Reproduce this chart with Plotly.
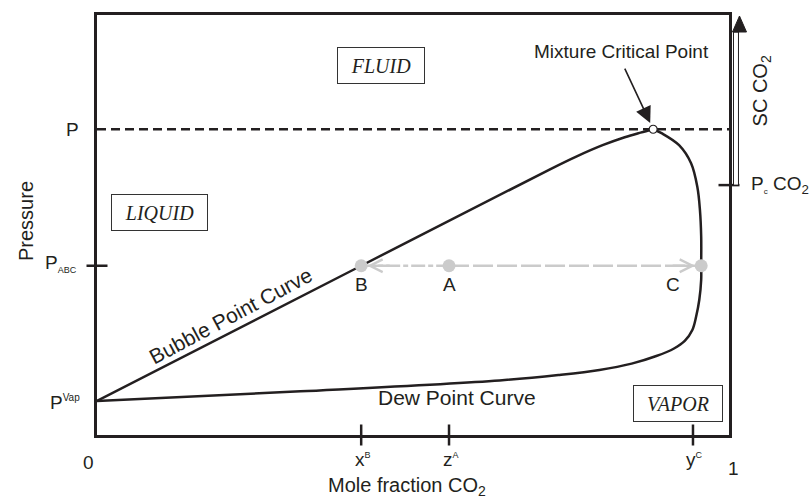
import plotly.graph_objects as go

# Bubble-point (saturated liquid) boundary of the two-phase envelope
bubble_x = [0.0, 0.418, 0.716, 0.760, 0.800, 0.835, 0.860, 0.880]
bubble_y = [0.081, 0.403, 0.632, 0.664, 0.690, 0.709, 0.720, 0.728]

# Dew-point (saturated vapor) boundary, from pure-solvent vapor pressure up to the critical point
dew_x = [0.0, 0.322, 0.637, 0.730, 0.795, 0.846, 0.885, 0.913, 0.930, 0.942, 0.948,
         0.953, 0.956, 0.956, 0.956, 0.954, 0.950, 0.940, 0.921, 0.894, 0.880]
dew_y = [0.081, 0.104, 0.130, 0.143, 0.155, 0.170, 0.188, 0.206, 0.224, 0.250, 0.282,
         0.322, 0.370, 0.403, 0.472, 0.536, 0.590, 0.647, 0.690, 0.718, 0.728]

# Characteristic pressures
p_crit = 0.728      # P (mixture critical pressure)
p_abc = 0.403       # P_ABC (flash pressure)
p_vap = 0.081       # P^Vap
pc_co2 = 0.595      # Pc CO2

# Mixture critical point
crit_x = 0.880

# Compositions along the tie line
x_B = 0.418
z_A = 0.557
y_C_tick = 0.943
x_C = 0.956
tie_names = ["B", "A", "C"]
tie_x = [x_B, z_A, x_C]

# Phase-region labels: (text, x, y, box width)
regions = [("LIQUID", 0.099, 0.530, 95), ("FLUID", 0.4495, 0.880, 86), ("VAPOR", 0.919, 0.075, 88)]

INK = "#231f20"
GREY = "#cbcbcb"
SANS = "Liberation Sans, Arial, sans-serif"
SERIF = "Liberation Serif, Times New Roman, serif"

fig = go.Figure()

# dashed isobar at the critical pressure
fig.add_trace(go.Scatter(x=[0, 1], y=[p_crit, p_crit], mode="lines",
                         line=dict(color=INK, width=2.5, dash="9px,5px"), hoverinfo="skip"))
# phase envelope
fig.add_trace(go.Scatter(x=bubble_x, y=bubble_y, mode="lines", line_shape="spline",
                         line=dict(color=INK, width=2.5), hoverinfo="skip"))
fig.add_trace(go.Scatter(x=dew_x, y=dew_y, mode="lines", line_shape="spline",
                         line=dict(color=INK, width=2.5), hoverinfo="skip"))
# tie line B - A - C
fig.add_trace(go.Scatter(x=[x_B, z_A], y=[p_abc, p_abc], mode="lines",
                         line=dict(color=GREY, width=2.5, dash="14px,3px,5px,3px"), hoverinfo="skip"))
fig.add_trace(go.Scatter(x=[z_A, x_C], y=[p_abc, p_abc], mode="lines",
                         line=dict(color=GREY, width=2.5, dash="20px,4px"), hoverinfo="skip"))
fig.add_trace(go.Scatter(x=tie_x, y=[p_abc] * 3, mode="markers",
                         marker=dict(color=GREY, size=13), cliponaxis=False, hoverinfo="skip"))
# critical point
fig.add_trace(go.Scatter(x=[crit_x], y=[p_crit], mode="markers",
                         marker=dict(color="white", size=8, line=dict(color=INK, width=1.2)),
                         cliponaxis=False, hoverinfo="skip"))
# axis ticks crossing the frame
fig.add_trace(go.Scatter(x=[x_B, z_A, y_C_tick], y=[0, 0, 0], mode="markers",
                         marker=dict(symbol="line-ns", size=15, line=dict(color=INK, width=2.5)),
                         cliponaxis=False, hoverinfo="skip"))
fig.add_trace(go.Scatter(x=[0, 1], y=[p_abc, pc_co2], mode="markers",
                         marker=dict(symbol="line-ew", size=15, line=dict(color=INK, width=2.5)),
                         cliponaxis=False, hoverinfo="skip"))

ann = []


def label(text, x, y, size=19, xref="x", yref="y", xanchor="center", yanchor="middle", **kw):
    d = dict(text=text, x=x, y=y, xref=xref, yref=yref, showarrow=False,
             xanchor=xanchor, yanchor=yanchor,
             font=dict(family=SANS, size=size, color=INK))
    d.update(kw)
    ann.append(d)


# pressure tick labels (left)
label("P", 0, p_crit, xanchor="right", xshift=-16)
label("P<sub><span style='font-size:9px'>ABC</span></sub>", 0, p_abc, xanchor="right", xshift=-18, yshift=2)
label("P<sup><span style='font-size:10px'>Vap</span></sup>", 0, p_vap, xanchor="right", xshift=-15, yshift=-2)

# composition tick labels (bottom)
label("0", 0, 0, yshift=-27, xshift=-9)
label("x<sup><span style='font-size:9px'>B</span></sup>", x_B, 0, yshift=-24, xshift=2)
label("z<sup><span style='font-size:9px'>A</span></sup>", z_A, 0, yshift=-24, xshift=2)
label("y<sup><span style='font-size:9px'>C</span></sup>", y_C_tick, 0, yshift=-24, xshift=2)
label("1", 1, 0, yshift=-33, xshift=4)

# axis titles
label("Mole fraction CO<sub>2</sub>", 0.49, -0.123, size=20, xref="paper", yref="paper")
label("Pressure", -0.112, 0.51, size=20, xref="paper", yref="paper", textangle=-90)

# right-hand supercritical scale
label("SC CO<sub>2</sub>", 1.052, 0.82, size=20, xref="paper", yref="paper", textangle=-90)
label("P<sub><span style='font-size:8px'>c</span></sub> CO<sub>2</sub>", 1.0, pc_co2,
      xref="paper", xanchor="left", xshift=20)

# tie-line point labels
for name, xv in zip(tie_names, tie_x):
    label(name, xv, p_abc, yshift=-19, xshift=(-28 if name == "C" else 0))

# curve labels
label("Bubble Point Curve", 0.212, 0.285, size=21, textangle=-28)
label("Dew Point Curve", 0.57, 0.090, size=21)
label("Mixture Critical Point", 0.9716, 0.912, xanchor="right")

# arrow to the critical point
ann.append(dict(x=crit_x, y=p_crit, ax=0.834, ay=0.876, xref="x", yref="y", axref="x", ayref="y",
                text="", showarrow=True, arrowhead=2, arrowsize=2, arrowwidth=1.6,
                arrowcolor=INK, standoff=7))

# chevrons at the ends of the tie line
ann.append(dict(x=x_B, y=p_abc, ax=30, ay=0, xref="x", yref="y", text="", showarrow=True,
                arrowhead=5, arrowsize=1, arrowwidth=2.5, arrowcolor=GREY, standoff=6))
ann.append(dict(x=x_C, y=p_abc, ax=-30, ay=0, xref="x", yref="y", text="", showarrow=True,
                arrowhead=5, arrowsize=1, arrowwidth=2.5, arrowcolor=GREY, standoff=6))

# boxed phase-region labels
for text, xv, yv, w in regions:
    ann.append(dict(text=text, x=xv, y=yv, xref="paper", yref="paper", showarrow=False,
                    xanchor="center", yanchor="middle",
                    width=w, height=35, borderwidth=1, bordercolor="#333333", borderpad=0,
                    bgcolor="white", font=dict(family=SERIF, size=20, color=INK, style="italic")))

# hollow upward arrow marking the supercritical range
shapes = [
    dict(type="rect", xref="paper", yref="paper", x0=1.0071, x1=1.015, y0=pc_co2, y1=0.9595,
         line=dict(color=INK, width=1), fillcolor="white"),
    dict(type="path", xref="paper", yref="paper",
         path="M 1.0055 0.9595 L 1.0277 0.9595 L 1.0166 0.9976 Z",
         line=dict(color=INK, width=1), fillcolor=INK),
]

axis_common = dict(range=[0, 1], showgrid=False, zeroline=False, showticklabels=False,
                   ticks="", showline=True, mirror=True, linewidth=3, linecolor=INK, fixedrange=True)

fig.update_layout(
    width=810, height=500,
    margin=dict(l=97, r=81, t=15, b=65),
    paper_bgcolor="white", plot_bgcolor="white",
    showlegend=False,
    xaxis=axis_common, yaxis=axis_common,
    annotations=ann, shapes=shapes,
)

fig.write_html("out.html")
